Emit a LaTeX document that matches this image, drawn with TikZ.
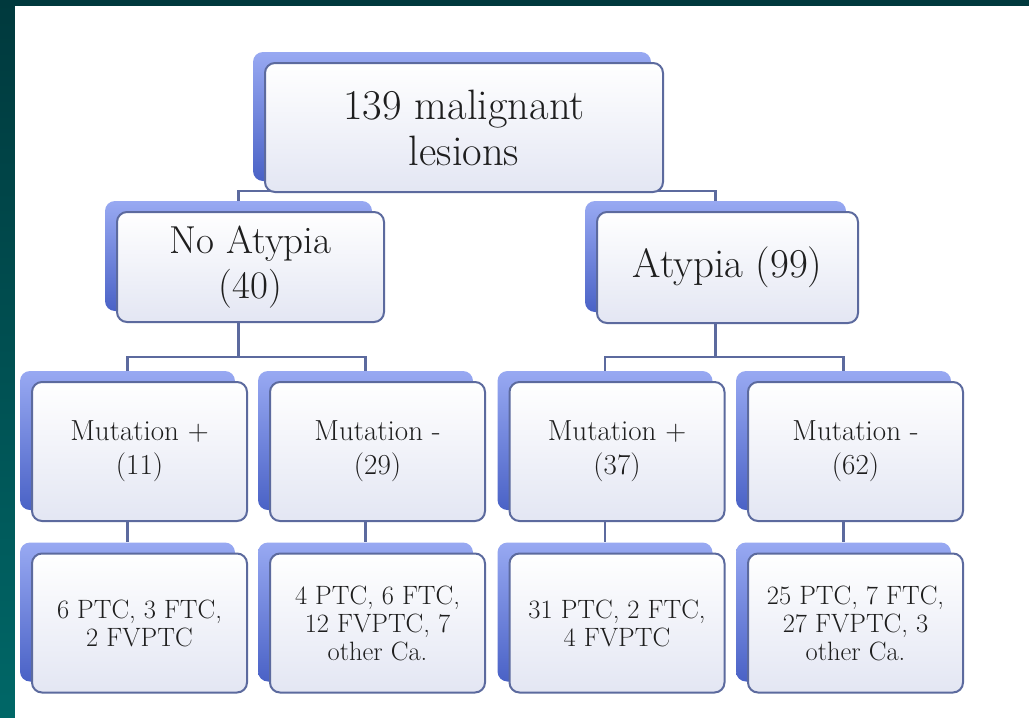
\documentclass[tikz,border=0pt]{standalone}
\usepackage{tikz}
\definecolor{teala}{HTML}{00393D}
\definecolor{tealb}{HTML}{006767}
\definecolor{bktop}{HTML}{98A9F2}
\definecolor{bkbot}{HTML}{4A62C6}
\definecolor{frbot}{HTML}{E3E6F3}
\definecolor{edge}{HTML}{5C6A9E}
\definecolor{ink}{HTML}{1E1E1E}

\begin{document}
\begin{tikzpicture}[x=1pt,y=-1pt,
  back/.style={rounded corners=10pt, top color=bktop, bottom color=bkbot, inner sep=0pt},
  front/.style={rounded corners=10pt, draw=edge, line width=2pt, top color=white, bottom color=frbot,
    inner sep=0pt, align=center, text=ink},
  lowback/.style={back, minimum width=215pt, minimum height=139pt},
  lowfront/.style={front, minimum width=215pt, minimum height=139pt},
  link/.style={draw=edge, line width=2.5pt}]
\fill[top color=teala, bottom color=tealb] (0,0) rectangle (1029,718);
\fill[white] (15,6) rectangle (1029,718);

\node[back, minimum width=398pt, minimum height=129pt] (top) at (452,116.5) {};
\node[back, minimum width=267pt, minimum height=110pt] (noat) at (238.5,256) {};
\node[back, minimum width=261pt, minimum height=111pt] (at) at (715.5,256.5) {};
\node[lowback] (mp1) at (127.5,440.5) {};
\node[lowback] (mm1) at (365.5,440.5) {};
\node[lowback] (mp2) at (605,440.5) {};
\node[lowback] (mm2) at (843.5,440.5) {};
\node[lowback] (r1) at (127.5,612) {};
\node[lowback] (r2) at (365.5,612) {};
\node[lowback] (r3) at (605,612) {};
\node[lowback] (r4) at (843.5,612) {};

\draw[link] (top.south) -- ++(0,10) -| (noat.north);
\draw[link] (top.south) -- ++(0,10) -| (at.north);
\draw[link] (noat.south) -- ++(0,46) -| (mp1.north);
\draw[link] (noat.south) -- ++(0,46) -| (mm1.north);
\draw[link] (at.south) -- ++(0,45) -| (mp2.north);
\draw[link] (at.south) -- ++(0,45) -| (mm2.north);
\draw[link] (mp1.south) -- (r1.north);
\draw[link] (mm1.south) -- (r2.north);
\draw[link] (mp2.south) -- (r3.north);
\draw[link] (mm2.south) -- (r4.north);

\node[front, minimum width=398pt, minimum height=129pt, font=\fontsize{42.5}{46}\selectfont] (topT)
  at ([shift={(12,11)}]top.center) {139 malignant\\lesions};
\node[front, minimum width=267pt, minimum height=110pt, font=\fontsize{39}{45}\selectfont] (noatT)
  at ([shift={(12,11)}]noat.center) {No Atypia\\(40)};
\node[front, minimum width=261pt, minimum height=111pt, font=\fontsize{41}{45}\selectfont] (atT)
  at ([shift={(12,11)}]at.center) {Atypia (99)};

\node[lowfront, font=\fontsize{29}{34}\selectfont] (mp1T) at ([shift={(12,11)}]mp1.center) {Mutation +\\(11)};
\node[lowfront, font=\fontsize{29}{34}\selectfont] (mm1T) at ([shift={(12,11)}]mm1.center) {Mutation -\\(29)};
\node[lowfront, font=\fontsize{29}{34}\selectfont] (mp2T) at ([shift={(12,11)}]mp2.center) {Mutation +\\(37)};
\node[lowfront, font=\fontsize{29}{34}\selectfont] (mm2T) at ([shift={(12,11)}]mm2.center) {Mutation -\\(62)};

\node[lowfront, font=\fontsize{26.5}{28}\selectfont] (r1T) at ([shift={(12,11)}]r1.center) {6 PTC, 3 FTC,\\2 FVPTC};
\node[lowfront, font=\fontsize{26.5}{28}\selectfont] (r2T) at ([shift={(12,11)}]r2.center) {4 PTC, 6 FTC,\\12 FVPTC, 7\\other Ca.};
\node[lowfront, font=\fontsize{26.5}{28}\selectfont] (r3T) at ([shift={(12,11)}]r3.center) {31 PTC, 2 FTC,\\4 FVPTC};
\node[lowfront, font=\fontsize{26.5}{28}\selectfont] (r4T) at ([shift={(12,11)}]r4.center) {25 PTC, 7 FTC,\\27 FVPTC, 3\\other Ca.};
\end{tikzpicture}
\end{document}
